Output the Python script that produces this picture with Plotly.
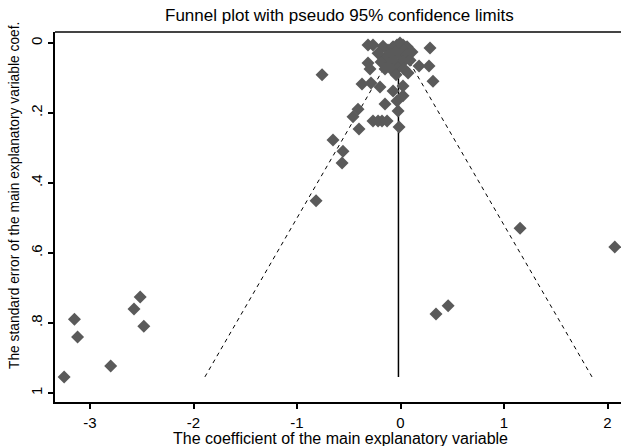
import plotly.graph_objects as go

# Estimated study coefficients (x) and standard errors (y)
coef = [-3.25, -3.15, -3.12, -2.80, -2.575, -2.515, -2.48, -0.816, 2.07, 1.155,
        0.46, 0.343, -0.652, -0.556, -0.565, -0.401, -0.014, -0.024, -0.266, -0.217,
        -0.179, -0.13, -0.15, -0.459, -0.411, -0.758, -0.372, -0.285, -0.198, -0.072,
        0.024, 0.024, -0.034, 0.179, 0.275, 0.314, 0.285, -0.314, -0.295, -0.314,
        -0.266, -0.169, -0.005, -0.121, -0.072, -0.034, 0.024, 0.063, 0.034, -0.043,
        -0.092, -0.140, -0.005, 0.063, 0.092, 0.024, -0.053, -0.111, -0.188, -0.024,
        -0.082, 0.034, -0.15, 0.111, -0.217, -0.043, 0.073]
se = [0.954, 0.789, 0.840, 0.923, 0.760, 0.726, 0.809, 0.451, 0.583, 0.529,
      0.751, 0.774, 0.277, 0.309, 0.343, 0.246, 0.240, 0.194, 0.223, 0.223,
      0.223, 0.223, 0.174, 0.211, 0.189, 0.091, 0.117, 0.114, 0.126, 0.137,
      0.123, 0.151, 0.166, 0.066, 0.066, 0.109, 0.014, 0.057, 0.074, 0.006,
      0.006, 0.009, 0.0, 0.02, 0.011, 0.006, 0.006, 0.011, 0.02, 0.026,
      0.034, 0.04, 0.034, 0.034, 0.049, 0.054, 0.054, 0.06, 0.054, 0.071,
      0.077, 0.074, 0.074, 0.026, 0.029, 0.091, 0.086]
pooled = -0.02
x_ticks = [-3, -2, -1, 0, 1, 2]
x_tick_labels = ["-3", "-2", "-1", "0", "1", "2"]
y_ticks = [0, 0.2, 0.4, 0.6, 0.8, 1]
y_tick_labels = ["0", ".2", ".4", ".6", ".8", "1"]

title = "Funnel plot with pseudo 95% confidence limits"
x_title = "The coefficient of the main explanatory variable"
y_title = "The standard error of the main explanatory variable coef."

max_se = max(se)
font = "Liberation Sans, Arial, sans-serif"

fig = go.Figure()
fig.add_trace(go.Scatter(
    x=[pooled - 1.96 * max_se, pooled, pooled + 1.96 * max_se],
    y=[max_se, 0, max_se], mode="lines",
    line=dict(color="black", width=1, dash="4px,4px"), hoverinfo="skip"))
fig.add_trace(go.Scatter(
    x=[pooled, pooled], y=[0, max_se], mode="lines",
    line=dict(color="black", width=1.5), hoverinfo="skip"))
fig.add_trace(go.Scatter(
    x=coef, y=se, mode="markers", cliponaxis=False,
    marker=dict(symbol="diamond", size=10, color="#5a5a5a", line=dict(width=0))))

fig.update_layout(
    width=621, height=446, showlegend=False,
    margin=dict(l=55, r=0, t=32, b=44),
    paper_bgcolor="white", plot_bgcolor="white",
    font=dict(family=font, size=13, color="black"),
    xaxis=dict(range=[-3.338, 2.130], tickvals=x_ticks, ticktext=x_tick_labels,
               showgrid=False, zeroline=False, showline=True, linecolor="black",
               linewidth=2, ticks="outside", ticklen=5, tickwidth=1.5,
               tickcolor="black", tickfont=dict(size=15), ticklabelstandoff=1),
    yaxis=dict(range=[1.0257, -0.0314], tickvals=y_ticks, ticktext=y_tick_labels,
               showgrid=False, zeroline=False, showline=True, linecolor="black",
               linewidth=2, ticks="outside", ticklen=5, tickwidth=1.5,
               tickcolor="black", tickangle=-90, tickfont=dict(size=15)),
    shapes=[dict(type="line", xref="paper", yref="paper", x0=0, x1=1, y0=1, y1=1,
                 line=dict(color="#444444", width=2))],
    annotations=[
        dict(text=title, xref="paper", yref="paper", x=(339 - 55) / 566, y=1,
             yshift=17, showarrow=False, font=dict(size=17), xanchor="center",
             yanchor="middle"),
        dict(text=x_title, xref="paper", yref="paper", x=(340 - 55) / 566, y=0,
             yshift=-36, showarrow=False, font=dict(size=16), xanchor="center",
             yanchor="middle"),
        dict(text=y_title, xref="paper", yref="paper", x=0, xshift=-41,
             y=(402 - 196) / 370, showarrow=False, textangle=-90,
             font=dict(size=13.8), xanchor="center", yanchor="middle"),
    ],
)

fig.write_html("out.html", config={"displayModeBar": False},
               post_script="document.body.style.margin='0';document.body.style.overflow='hidden';")
